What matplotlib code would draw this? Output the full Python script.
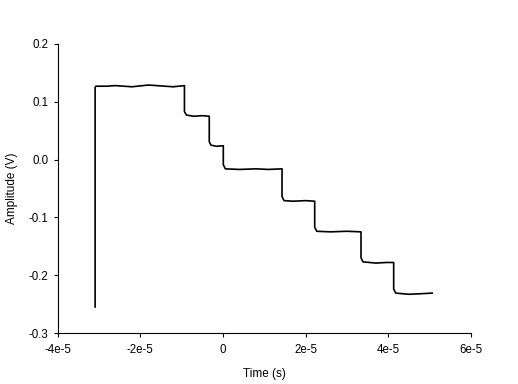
import matplotlib
matplotlib.use("Agg")
import matplotlib.pyplot as plt

plt.rcParams['font.family'] = ['Liberation Sans', 'DejaVu Sans']

# Waveform breakpoints (time in s, amplitude in V)
time_s = [-3.09e-5, -3.09e-5, -3.07e-5, -2.8e-5, -2.6e-5, -2.2e-5, -1.8e-5, -1.4e-5, -1.2e-5, -0.93e-5,
          -0.93e-5, -0.88e-5, -0.7e-5, -0.5e-5, -0.33e-5,
          -0.33e-5, -0.29e-5, -0.15e-5, 0.01e-5,
          0.01e-5, 0.06e-5, 0.4e-5, 0.8e-5, 1.1e-5, 1.43e-5,
          1.43e-5, 1.48e-5, 1.7e-5, 2.0e-5, 2.22e-5,
          2.22e-5, 2.27e-5, 2.6e-5, 3.0e-5, 3.34e-5,
          3.34e-5, 3.39e-5, 3.7e-5, 3.95e-5, 4.13e-5,
          4.13e-5, 4.18e-5, 4.5e-5, 4.8e-5, 5.06e-5]
amplitude_v = [-0.255, 0.125, 0.127, 0.127, 0.128, 0.126, 0.129, 0.127, 0.126, 0.128,
               0.083, 0.077, 0.075, 0.076, 0.075,
               0.031, 0.025, 0.023, 0.024,
               -0.009, -0.016, -0.017, -0.016, -0.017, -0.016,
               -0.064, -0.071, -0.072, -0.071, -0.072,
               -0.117, -0.124, -0.125, -0.124, -0.125,
               -0.170, -0.177, -0.179, -0.178, -0.178,
               -0.224, -0.231, -0.233, -0.232, -0.231]

x_ticks = [-4e-5, -2e-5, 0, 2e-5, 4e-5, 6e-5]
x_tick_labels = ['-4e-5', '-2e-5', '0', '2e-5', '4e-5', '6e-5']
y_ticks = [0.2, 0.1, 0.0, -0.1, -0.2, -0.3]
y_tick_labels = ['0.2', '0.1', '0.0', '-0.1', '-0.2', '-0.3']

fig = plt.figure(figsize=(5.18, 3.84), dpi=100)
ax = fig.add_axes([57.5/518, 1-333/384, (471-57.5)/518, (333-44)/384])
ax.plot(time_s, amplitude_v, color='black', linewidth=1.2)

ax.set_xlim(-4e-5, 6e-5)
ax.set_ylim(-0.3, 0.2)
ax.set_xticks(x_ticks)
ax.set_xticklabels(x_tick_labels)
ax.set_yticks(y_ticks)
ax.set_yticklabels(y_tick_labels)
ax.tick_params(direction='out', length=2.9, width=0.8, labelsize=8.3, colors='black')
ax.tick_params(axis='x', pad=5)
ax.tick_params(axis='y', pad=3.6)
for s in ['top', 'right']:
    ax.spines[s].set_visible(False)
for s in ['left', 'bottom']:
    ax.spines[s].set_linewidth(0.8)
ax.set_xlabel('Time (s)', fontsize=8.5, labelpad=8.5)
ax.set_ylabel('Amplitude (V)', fontsize=8.5, labelpad=8)

fig.savefig('out.png', dpi=100)
